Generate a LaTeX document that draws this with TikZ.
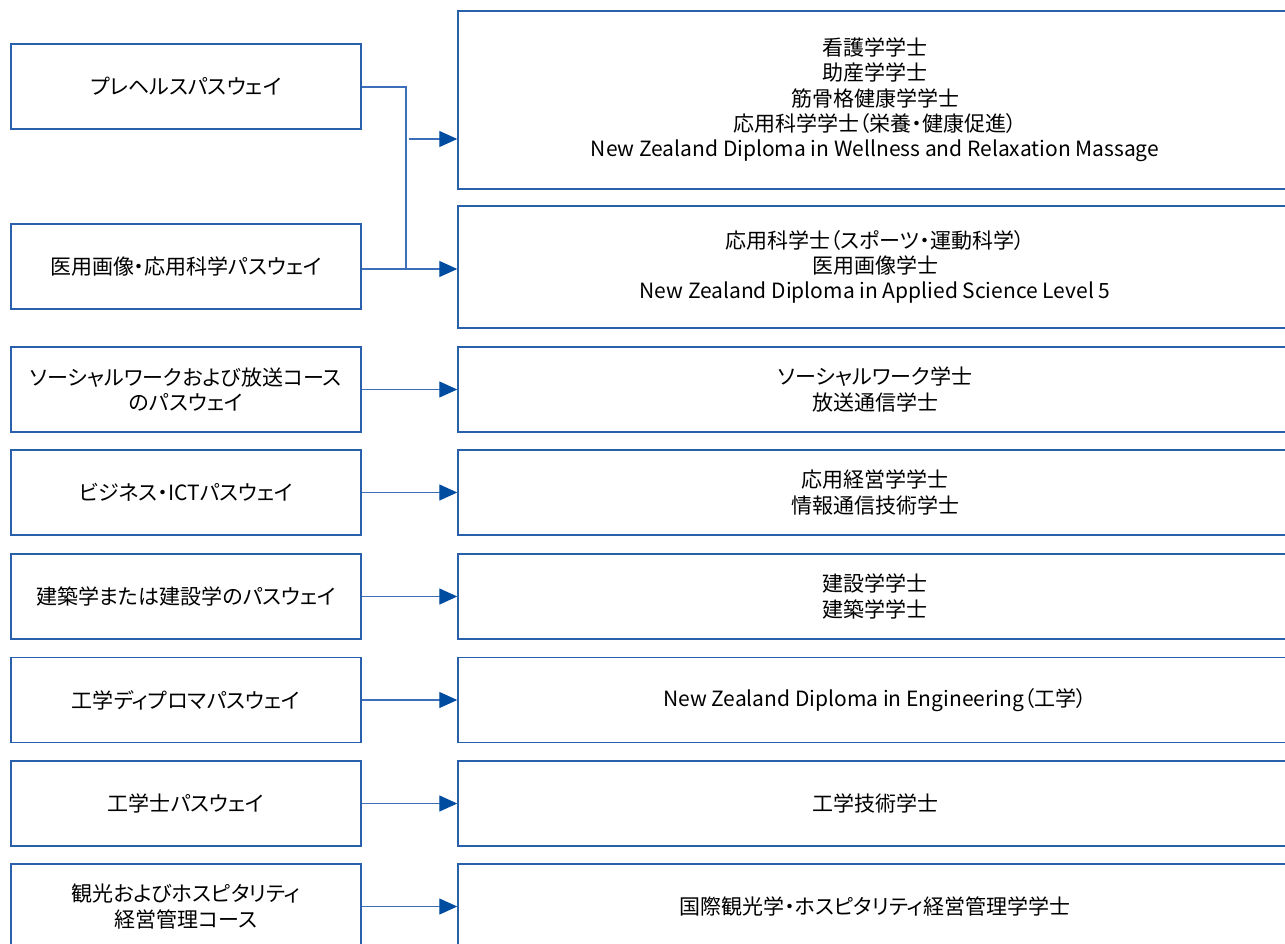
\documentclass[tikz,border=0pt]{standalone}
\usepackage{fontspec}
\setmainfont{Noto Sans CJK JP}[RawFeature=+palt]
\usetikzlibrary{arrows.meta}
\definecolor{boxblue}{RGB}{40,96,172}
\definecolor{lineblue}{RGB}{60,110,185}
\definecolor{tipblue}{RGB}{0,76,160}
\tikzset{
  lbox/.style={draw=boxblue, line width=1.5pt, rectangle, minimum width=350pt, minimum height=85pt, align=center, inner sep=0pt, font=\fontsize{21}{25.3}\selectfont},
  rbox/.style={draw=boxblue, line width=1.5pt, rectangle, minimum width=834pt, minimum height=85pt, align=center, inner sep=0pt, font=\fontsize{21}{25.3}\selectfont},
  conn/.style={draw=lineblue, line width=1.3pt},
  arr/.style={conn, -{Triangle[length=18pt,width=16pt,fill=tipblue,color=tipblue]}, shorten >=0pt},
}
\begin{document}
\begin{tikzpicture}[x=1pt,y=-1pt]
\useasboundingbox[fill=white] (0,0) rectangle (1285,943);
% left boxes
\node[lbox] (L1) at (186,86.5) {プレヘルスパスウェイ};
\node[lbox] (L2) at (186,266.5) {医用画像・応用科学パスウェイ};
\node[lbox] (L3) at (186,389.5) {ソーシャルワークおよび放送コース\\のパスウェイ};
\node[lbox] (L4) at (186,492.5) {ビジネス・ICTパスウェイ};
\node[lbox] (L5) at (186,596.5) {建築学または建設学のパスウェイ};
\node[lbox] (L6) at (186,700) {工学ディプロマパスウェイ};
\node[lbox] (L7) at (186,803.5) {工学士パスウェイ};
\node[lbox] (L8) at (186,906.5) {観光およびホスピタリティ\\経営管理コース};
% right boxes
\node[rbox, minimum height=178pt] (R1) at (875,100) {看護学学士\\助産学学士\\筋骨格健康学学士\\応用科学学士（栄養・健康促進）\\New Zealand Diploma in Wellness and Relaxation Massage};
\node[rbox, minimum height=122pt] (R2) at (875,267) {応用科学士（スポーツ・運動科学）\\医用画像学士\\New Zealand Diploma in Applied Science Level 5};
\node[rbox] (R3) at (875,389.5) {ソーシャルワーク学士\\放送通信学士};
\node[rbox] (R4) at (875,492.5) {応用経営学学士\\情報通信技術学士};
\node[rbox] (R5) at (875,596.5) {建設学学士\\建築学学士};
\node[rbox] (R6) at (875,700) {New Zealand Diploma in Engineering（工学）};
\node[rbox] (R7) at (875,803.5) {工学技術学士};
\node[rbox] (R8) at (875,906.5) {国際観光学・ホスピタリティ経営管理学学士};
% merged connectors
\coordinate (J1) at (406,87);
\coordinate (J2) at (406,269);
\coordinate (A1) at (409,139);
\draw[conn] (L1.east |- J1) -- (J1) -- (J2);
\draw[arr] (L2.east |- J2) -- (R2.west |- J2);
\draw[arr] (A1) -- (R1.west |- A1);
% simple connectors
\foreach \i in {3,...,8} {
  \draw[arr] (L\i.east) -- (R\i.west);
}
\end{tikzpicture}
\end{document}
